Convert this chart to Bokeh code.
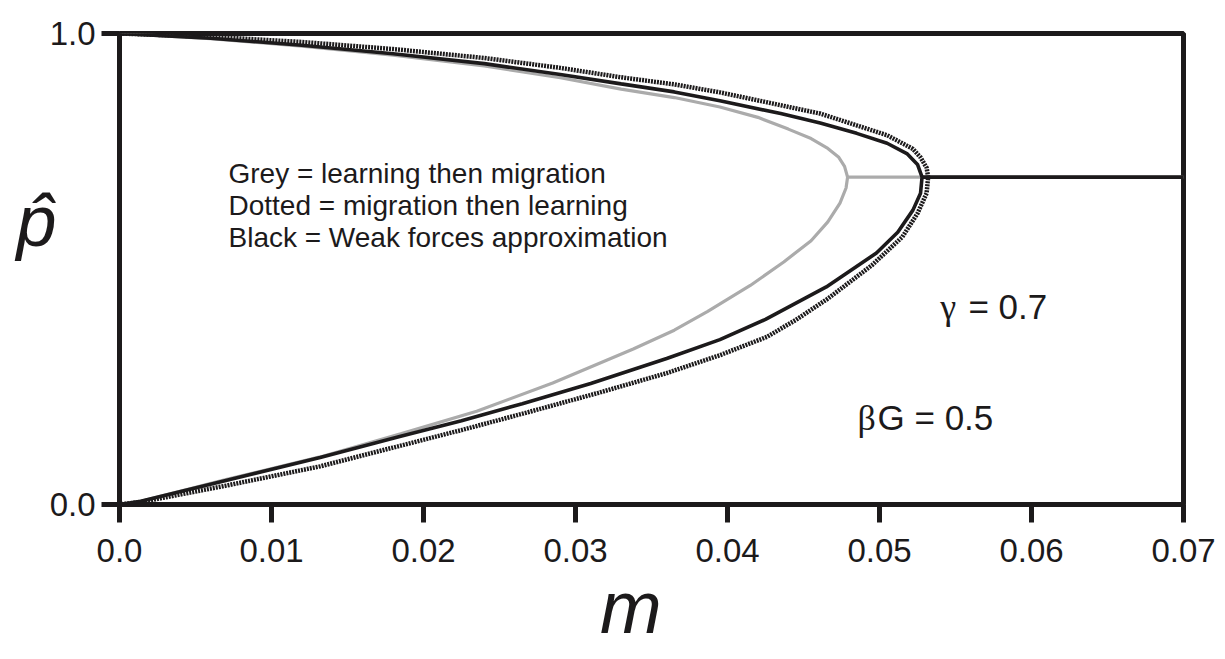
from bokeh.plotting import figure
from bokeh.models import Label, FixedTicker, Range1d
from bokeh.embed import file_html
from bokeh.resources import INLINE

# ---------------- data ----------------
x_ticks = [0.0, 0.01, 0.02, 0.03, 0.04, 0.05, 0.06, 0.07]
x_tick_labels = ["0.0", "0.01", "0.02", "0.03", "0.04", "0.05", "0.06", "0.07"]
y_ticks = [0.0, 1.0]
y_tick_labels = ["0.0", "1.0"]
m_end = 0.07
p_plateau = 0.695

# Grey = learning then migration
grey_upper_m = [0.0, 0.006, 0.012, 0.018, 0.024, 0.029, 0.033, 0.0365, 0.0395, 0.042, 0.044, 0.0455, 0.0466, 0.0473, 0.0477, 0.0479]
grey_upper_p = [1.0, 0.989, 0.973, 0.954, 0.931, 0.906, 0.882, 0.864, 0.844, 0.822, 0.797, 0.777, 0.756, 0.738, 0.718, 0.695]
grey_lower_m = [0.0, 0.0014, 0.007, 0.0132, 0.0185, 0.0235, 0.0285, 0.0338, 0.0365, 0.0387, 0.0415, 0.0437, 0.0455, 0.0466, 0.0474, 0.0478, 0.0479]
grey_lower_p = [0.0, 0.007, 0.053, 0.101, 0.150, 0.198, 0.258, 0.33, 0.37, 0.41, 0.465, 0.515, 0.56, 0.60, 0.64, 0.672, 0.695]

# Black = weak forces approximation
black_upper_m = [0.0, 0.006, 0.012, 0.018, 0.024, 0.029, 0.033, 0.0365, 0.0395, 0.0435, 0.0461, 0.0485, 0.0505, 0.0518, 0.0525, 0.0528]
black_upper_p = [1.0, 0.99, 0.975, 0.957, 0.936, 0.913, 0.893, 0.876, 0.857, 0.83, 0.81, 0.788, 0.767, 0.745, 0.722, 0.695]
black_lower_m = [0.0, 0.0014, 0.007, 0.0132, 0.0185, 0.0225, 0.0265, 0.031, 0.036, 0.0395, 0.0425, 0.0465, 0.0498, 0.0512, 0.0522, 0.0527, 0.0528]
black_lower_p = [0.0, 0.007, 0.051, 0.0996, 0.145, 0.178, 0.214, 0.257, 0.31, 0.35, 0.393, 0.462, 0.534, 0.578, 0.625, 0.661, 0.695]

# Dotted = migration then learning
dot_upper_m = [0.0, 0.006, 0.012, 0.018, 0.024, 0.029, 0.033, 0.0365, 0.0395, 0.0461, 0.0505, 0.0522, 0.0527, 0.0531, 0.0532]
dot_upper_p = [1.0, 0.993, 0.982, 0.967, 0.948, 0.927, 0.907, 0.892, 0.875, 0.83, 0.784, 0.755, 0.737, 0.715, 0.695]
dot_lower_m = [0.0, 0.0014, 0.007, 0.0132, 0.0185, 0.0225, 0.027, 0.0315, 0.036, 0.0395, 0.0426, 0.0445, 0.0466, 0.0495, 0.0515, 0.0525, 0.0531, 0.0532]
dot_lower_p = [0.0, 0.005, 0.04, 0.081, 0.125, 0.158, 0.197, 0.237, 0.279, 0.317, 0.356, 0.392, 0.437, 0.508, 0.568, 0.618, 0.661, 0.695]

notes = ["Grey = learning then migration",
         "Dotted = migration then learning",
         "Black = Weak forces approximation"]
gamma_sym, gamma_rest = "\u03b3", "= 0.7"
beta_sym, beta_rest = "\u03b2", "G = 0.5"
y_title = "p\u0302"
x_title = "m"

# ---------------- figure ----------------
INK = "#1c1a1b"
FONT = "Liberation Sans"

p = figure(width=1217, height=651, output_backend="svg", toolbar_location=None,
           x_range=Range1d(0, m_end), y_range=Range1d(0, 1.0),
           min_border_left=119, min_border_right=34, min_border_top=33, min_border_bottom=146)
p.background_fill_color = "white"
p.border_fill_color = "white"
p.outline_line_color = INK
p.outline_line_width = 5
p.grid.visible = False

for ax in (p.xaxis[0], p.yaxis[0]):
    ax.axis_line_color = INK
    ax.axis_line_width = 5
    ax.major_tick_line_color = INK
    ax.major_tick_line_width = 5
    ax.major_tick_out = 18
    ax.major_tick_in = 0
    ax.minor_tick_line_color = None
    ax.major_label_text_font = FONT
    ax.major_label_text_font_size = "33px"
    ax.major_label_text_color = INK
    ax.axis_label_text_font = FONT
    ax.axis_label_text_font_style = "italic"
    ax.axis_label_text_color = INK

p.xaxis.ticker = FixedTicker(ticks=x_ticks)
p.xaxis.major_label_overrides = {t: s for t, s in zip(x_ticks, x_tick_labels)}
p.xaxis.major_label_standoff = 16
p.xaxis.axis_label = x_title + "\u00a0\u00a0"
p.xaxis.axis_label_text_font_size = "74px"
p.xaxis.axis_label_standoff = 1

p.yaxis.ticker = FixedTicker(ticks=y_ticks)
p.yaxis.major_label_overrides = {t: s for t, s in zip(y_ticks, y_tick_labels)}
p.yaxis.major_label_standoff = 6
p.yaxis.axis_label = y_title + "\n\u00a0"
p.yaxis.axis_label_orientation = "horizontal"
p.yaxis.axis_label_text_font_size = "72px"
p.yaxis.axis_label_standoff = -10

def branch(um, up, lm, lp):
    return um + lm[::-1][1:], up + lp[::-1][1:]

gm, gp = branch(grey_upper_m, grey_upper_p, grey_lower_m, grey_lower_p)
bm, bp = branch(black_upper_m, black_upper_p, black_lower_m, black_lower_p)
dm, dp = branch(dot_upper_m, dot_upper_p, dot_lower_m, dot_lower_p)

p.line(gm, gp, line_color="#ababab", line_width=3.2)
p.line([grey_upper_m[-1], m_end], [p_plateau, p_plateau], line_color="#ababab", line_width=3.2)
p.line(dm, dp, line_color=INK, line_width=4.5, line_dash="2 1")
p.line(bm, bp, line_color=INK, line_width=3.6)
p.line([black_upper_m[-1], m_end], [p_plateau, p_plateau], line_color=INK, line_width=3.6)

# notes
note_y = [0.7034, 0.6356, 0.5678]
for t, yy in zip(notes, note_y):
    p.add_layout(Label(x=0.00717, y=yy, text=t, text_font=FONT, text_font_size="28px",
                       text_color=INK, text_baseline="alphabetic", text_align="left"))

def param(x_sym, x_rest, yy, sym, rest):
    p.add_layout(Label(x=x_sym, y=yy, text=sym, text_font="Liberation Serif", text_font_size="36px",
                       text_color=INK, text_baseline="alphabetic", text_align="left"))
    p.add_layout(Label(x=x_rest, y=yy, text=rest, text_font=FONT, text_font_size="35px",
                       text_color=INK, text_baseline="alphabetic", text_align="left"))

param(0.0540, 0.05585, 0.4195, gamma_sym, gamma_rest)
param(0.04855, 0.04987, 0.1843, beta_sym, beta_rest)

open("out.html", "w").write(file_html(p, INLINE))
